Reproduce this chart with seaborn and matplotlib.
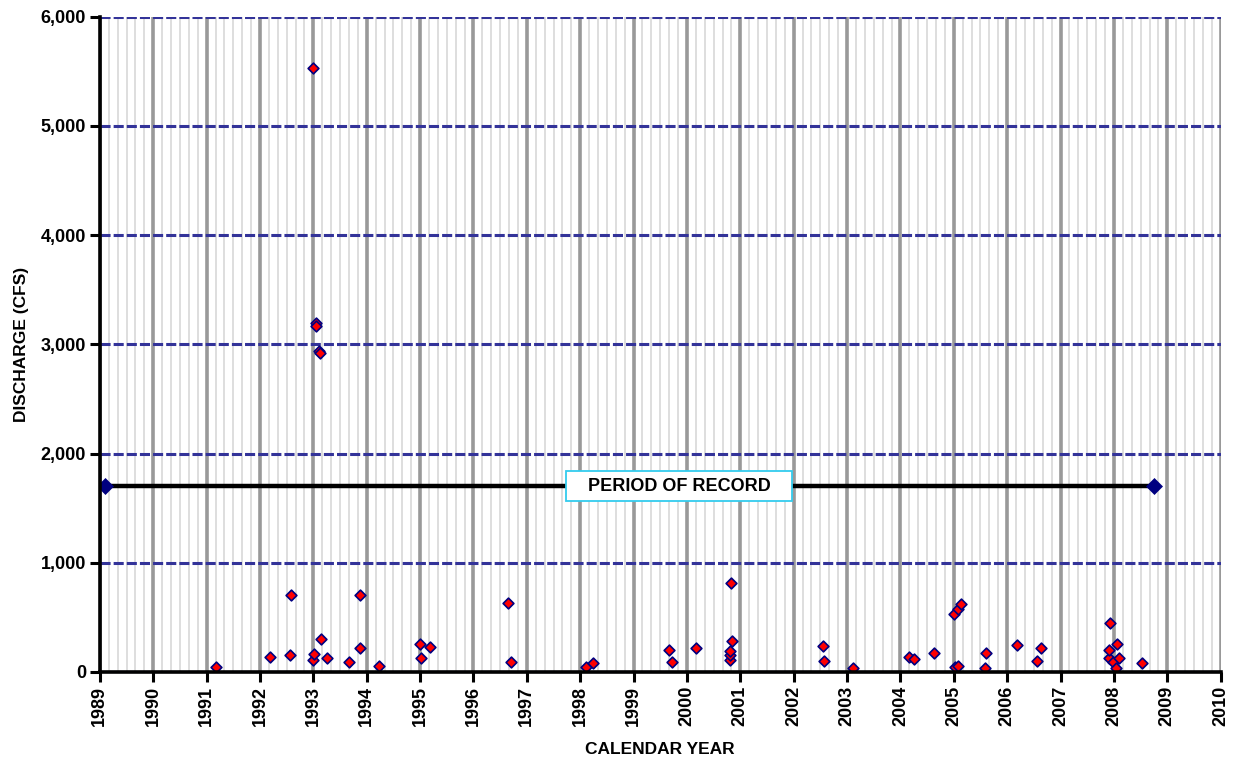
import matplotlib
matplotlib.use("Agg")
import matplotlib.pyplot as plt
import matplotlib.ticker as mticker
import pandas as pd
import seaborn as sns

# sample dates (decimal years) and measured discharge (cfs)
sample_years = [1991.17, 1992.19, 1992.56, 1992.59, 1993.00, 1993.02, 1993.00, 1993.05, 1993.05,
                1993.11, 1993.12, 1993.15, 1993.25, 1993.66, 1993.87, 1993.87, 1994.23, 1995.00,
                1995.01, 1995.18, 1996.65, 1996.71, 1998.11, 1998.24, 1999.66, 1999.72, 2000.17,
                2000.80, 2000.80, 2000.80, 2000.82, 2000.85, 2002.55, 2002.56, 2003.12, 2004.16,
                2004.25, 2004.63, 2005.01, 2005.02, 2005.07, 2005.08, 2005.13, 2005.58, 2005.60,
                2006.18, 2006.56, 2006.63, 2007.90, 2007.90, 2007.92, 2007.99, 2008.04, 2008.06,
                2008.09, 2008.52]
discharge = [50, 135, 156, 704, 107, 162, 5530, 3200, 3170, 2940, 2920, 306, 129, 89, 220, 704,
             52, 254, 126, 230, 627, 89, 46, 83, 202, 89, 224, 113, 153, 193, 814, 284, 239, 104,
             40, 141, 119, 171, 529, 46, 52, 581, 618, 40, 178, 251, 104, 220, 132, 202, 444, 89,
             40, 257, 126, 80]

# period of record bar
record_years = [1989.1, 2008.75]
record_level = [1700, 1700]
record_label = "PERIOD OF RECORD"
label_year = 1999.85

year_ticks = list(range(1989, 2011))
y_ticks = [0, 1000, 2000, 3000, 4000, 5000, 6000]

sns.set_theme(style="white")
plt.rcParams["font.family"] = ["Liberation Sans", "DejaVu Sans"]
plt.rcParams.update({
    "font.weight": "bold",
    "text.color": "black",
    "axes.labelcolor": "black",
    "xtick.color": "black",
    "ytick.color": "black",
})

fig = plt.figure(figsize=(12.33, 7.61), dpi=100)
ax = fig.add_axes([0.081, 0.117, 0.909, 0.861])

df = pd.DataFrame({"year": sample_years, "cfs": discharge})

# grid: bimonthly minor, yearly major, dashed navy horizontals
ax.xaxis.set_minor_locator(mticker.MultipleLocator(1 / 6))
ax.grid(True, which="minor", axis="x", color="#D4D4D4", linewidth=1.1, zorder=0)
ax.grid(True, which="major", axis="x", color="#999999", linewidth=2.6, zorder=0)
ax.grid(True, which="major", axis="y", color="#333399", linewidth=2.2,
        linestyle=(0, (3.3, 1.0)), zorder=1)
ax.set_axisbelow(True)

ax.plot(record_years, record_level, color="black", linewidth=3.2, zorder=3)
sns.scatterplot(x=record_years, y=record_level, marker="D", s=75, color="#000080",
                edgecolor="#000080", linewidth=0, ax=ax, zorder=4)
ax.text(label_year, record_level[0], "   " + record_label + "   ", ha="center", va="center",
        fontsize=13, fontweight="bold", color="black", zorder=5,
        bbox=dict(boxstyle="square,pad=0.35", facecolor="white", edgecolor="#33CCEE", linewidth=1.3))

sns.scatterplot(data=df, x="year", y="cfs", marker="D", s=30, color="#FF0000",
                edgecolor="#000080", linewidth=1.2, ax=ax, zorder=6)

ax.set_xlim(1989, 2010)
ax.set_ylim(0, 6000)
ax.set_xticks(year_ticks)
ax.set_xticklabels([str(y) for y in year_ticks], rotation=90, fontsize=13, fontweight="bold")
ax.set_yticks(y_ticks)
ax.yaxis.set_major_formatter(mticker.FuncFormatter(lambda v, p: f"{int(v):,}"))
for lbl in ax.get_yticklabels():
    lbl.set_fontsize(13)
    lbl.set_fontweight("bold")

ax.tick_params(axis="both", which="major", direction="out", length=7, width=2.2, color="black",
               bottom=True, left=True, pad=3)
ax.tick_params(axis="x", which="minor", length=0)

ax.set_xlabel("CALENDAR YEAR", fontsize=12.5, fontweight="bold", labelpad=11)
ax.set_ylabel("DISCHARGE (CFS)", fontsize=12.5, fontweight="bold", labelpad=8)

for side in ["top", "right"]:
    ax.spines[side].set_visible(False)
for side in ["left", "bottom"]:
    ax.spines[side].set_color("black")
    ax.spines[side].set_linewidth(2.6)
    ax.spines[side].set_zorder(7)

fig.savefig("out.png", dpi=100, facecolor="white")
